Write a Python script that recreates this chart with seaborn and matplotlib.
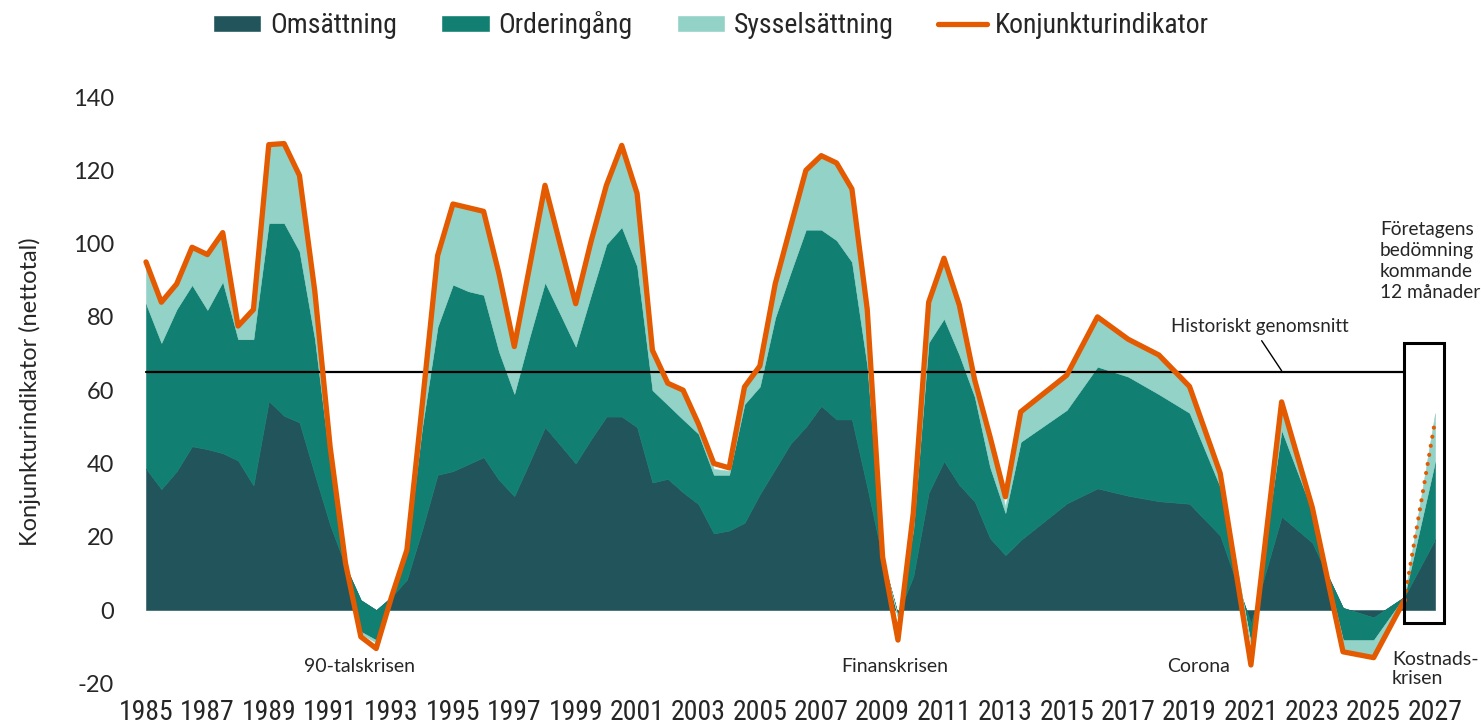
import matplotlib
matplotlib.use("Agg")
import matplotlib.pyplot as plt
import matplotlib.font_manager as fm
from matplotlib.patches import Rectangle, Patch
from matplotlib.lines import Line2D
import seaborn as sns
import pandas as pd

# ---------------- data ----------------
years = [1985.0, 1985.5, 1986.0, 1986.5, 1987.0, 1987.5, 1988.0, 1988.5, 1989.0, 1989.5,
         1990.0, 1990.5, 1991.0, 1991.5, 1992.0, 1992.5, 1993.0, 1993.5, 1994.0, 1994.5,
         1995.0, 1995.5, 1996.0, 1996.5, 1997.0, 1997.5, 1998.0, 1998.5, 1999.0, 1999.5,
         2000.0, 2000.5, 2001.0, 2001.5, 2002.0, 2002.5, 2003.0, 2003.5, 2004.0, 2004.5,
         2005.0, 2005.5, 2006.0, 2006.5, 2007.0, 2007.5, 2008.0, 2008.5, 2009.0, 2009.5,
         2010.0, 2010.5, 2011.0, 2011.5, 2012.0, 2012.5, 2013.0, 2013.5, 2015.0, 2016.0,
         2017.0, 2018.0, 2019.0, 2020.0, 2021.0, 2022.0, 2023.0, 2024.0, 2025.0, 2026.0,
         2027.0]

omsattning = [38.6, 33.0, 37.9, 44.7, 43.9, 42.8, 40.8, 34.0, 57.0, 53.0,
              51.2, 37.0, 23.2, 12.0, 2.7, 0.0, 3.6, 8.3, 22.0, 36.9,
              37.9, 39.8, 41.7, 35.5, 31.1, 40.4, 49.9, 45.0, 40.0, 46.6,
              52.8, 52.8, 49.9, 34.8, 35.8, 32.1, 28.9, 20.9, 21.7, 23.8,
              31.6, 38.5, 45.4, 50.0, 55.7, 52.0, 52.0, 33.5, 14.0, -1.2,
              9.2, 32.0, 40.6, 34.1, 29.6, 19.6, 15.0, 19.1, 29.1, 33.2,
              31.2, 29.7, 29.0, 20.3, -3.6, 25.5, 18.4, 0.6, -2.0, 3.6,
              19.3]

orderingang = [45.0, 39.9, 44.2, 44.0, 38.0, 46.8, 33.1, 39.9, 48.6, 52.6,
               46.7, 37.0, 16.8, 0.5, -8.6, -8.2, 0.0, 7.7, 28.0, 40.4,
               50.9, 47.2, 44.3, 35.0, 27.9, 34.2, 39.5, 35.7, 31.9, 39.4,
               47.0, 51.7, 43.9, 25.2, 20.2, 19.9, 19.2, 16.0, 15.2, 32.4,
               29.4, 41.3, 46.6, 53.8, 48.1, 48.9, 43.0, 33.1, 0.2, -0.8,
               12.8, 41.0, 38.9, 35.5, 28.6, 19.4, 11.5, 26.8, 25.5, 33.2,
               32.5, 29.2, 24.8, 13.3, -5.5, 23.6, 8.6, -8.8, -6.2, 0.0,
               21.2]

sysselsattning = [11.4, 11.1, 6.9, 10.3, 15.1, 13.4, 3.1, 7.6, 20.9, 21.4,
                  20.6, 12.5, 4.0, 0.3, -0.6, -0.7, 0.0, 0.4, 6.0, 19.2,
                  21.7, 22.5, 22.5, 21.0, 12.5, 18.9, 26.1, 18.8, 11.6, 14.5,
                  15.7, 22.0, 19.7, 10.5, 5.5, 7.5, 2.4, 1.6, 1.1, 4.3,
                  5.3, 8.9, 12.3, 15.9, 19.9, 20.8, 19.6, 15.1, 0.2, 0.0,
                  4.3, 10.7, 16.2, 13.4, 4.3, 8.0, 1.5, 7.9, 9.2, 13.3,
                  9.9, 10.4, 6.9, 3.4, -0.4, 7.4, 0.8, -2.6, -4.1, 0.0,
                  13.2]

konjunktur = [95.0, 84.0, 89.0, 99.0, 97.0, 103.0, 77.5, 82.0, 127.0, 127.3,
              118.6, 87.0, 44.5, 12.8, -7.3, -10.5, 3.6, 16.4, 56.0, 96.7,
              110.8, 109.8, 108.8, 91.8, 71.9, 93.8, 115.9, 99.6, 83.6, 100.6,
              115.9, 126.8, 113.7, 70.9, 61.9, 60.0, 50.8, 40.0, 38.8, 60.9,
              66.6, 89.0, 104.6, 120.0, 124.0, 122.0, 114.9, 82.0, 14.5, -8.2,
              26.5, 84.0, 96.0, 83.2, 62.8, 47.3, 30.9, 54.1, 64.1, 80.0,
              73.9, 69.6, 61.0, 37.3, -15.0, 56.8, 28.0, -11.4, -13.0, 2.7,
              51.7]

historical_avg = 65
forecast_start = 2026.0

series_names = ["Omsättning", "Orderingång", "Sysselsättning", "Konjunkturindikator"]
x_ticks = [1985, 1987, 1989, 1991, 1993, 1995, 1997, 1999, 2001, 2003, 2005, 2007,
           2009, 2011, 2013, 2015, 2017, 2019, 2021, 2023, 2025, 2027]
y_ticks = [-20, 0, 20, 40, 60, 80, 100, 120, 140]

# ---------------- style ----------------
C_DARK = "#22555b"
C_MID = "#117f71"
C_LIGHT = "#93d2c7"
C_ORANGE = "#e35a00"

sns.set_theme(style="white")
names = {f.name for f in fm.fontManager.ttflist}
REG = "Lato" if "Lato" in names else "DejaVu Sans"
plt.rcParams["font.family"] = [REG, "DejaVu Sans"]

cond_prop = None
for n in ["Liberation Sans Narrow", "Roboto Condensed", "Open Sans Condensed", "Noto Sans Condensed"]:
    if n in names:
        cond_prop = dict(family=[n, "DejaVu Sans"])
        break
if cond_prop is None:
    stretched = [f for f in fm.fontManager.ttflist
                 if f.name in ("Noto Sans", "Open Sans") and str(f.stretch) in ("condensed", "semi-condensed", "extra-condensed", "75", "87")]
    if stretched:
        cond_prop = dict(family=[stretched[0].name, "DejaVu Sans"], stretch="condensed")
    else:
        cond_prop = dict(family=[REG, "DejaVu Sans"])
is_cond = ("Narrow" in cond_prop["family"][0] or "Condensed" in cond_prop["family"][0]
           or cond_prop.get("stretch"))
TICK_SIZE = 20.0 if is_cond else 16
LEG_SIZE = 20.0 if is_cond else 16

fig = plt.figure(figsize=(14.81, 7.24), dpi=100)
ax = fig.add_axes([0.07786, 0.0562, 0.91185, 0.8098])

ax.stackplot(years, omsattning, orderingang, sysselsattning,
             colors=[C_DARK, C_MID, C_LIGHT], linewidth=0.4,
             edgecolor="face", zorder=1)

ax.plot([1985, forecast_start], [historical_avg, historical_avg], color="black", lw=1.6, zorder=2)

df = pd.DataFrame({"year": years, "konj": konjunktur})
solid = df[df["year"] <= forecast_start]
fc = df[df["year"] >= forecast_start]
sns.lineplot(data=solid, x="year", y="konj", color=C_ORANGE, lw=3.8, ax=ax,
             sort=False, legend=False, zorder=4)
for l in ax.lines[-1:]:
    l.set_solid_joinstyle("round")
    l.set_solid_capstyle("round")
ax.plot(fc["year"], fc["konj"], color=C_ORANGE, lw=3.0,
        linestyle=(0, (0.01, 2.2)), dash_capstyle="round", zorder=4)

ax.add_patch(Rectangle((forecast_start, -3.5), 1.3, 76.5, fill=False,
                       edgecolor="black", lw=2.2, zorder=5))

# annotations
ax.plot([2021.35, 2022.0], [73.5, 65.3], color="black", lw=1.0, zorder=3)
ax.text(2018.4, 77.5, "Historiskt genomsnitt", fontsize=13.5, ha="left", va="center")
ax.text(2025.2, 106.3, "Företagens\nbedömning\nkommande\n12 månader", fontsize=13.8,
        ha="left", va="top", linespacing=1.3)
ax.text(1991.97, -15.3, "90-talskrisen", fontsize=14, ha="center", va="center")
ax.text(2009.4, -15.3, "Finanskrisen", fontsize=14, ha="center", va="center")
ax.text(2019.3, -15.3, "Corona", fontsize=14, ha="center", va="center")
ax.text(2025.6, -16.0, "Kostnads-\nkrisen", fontsize=14, ha="left", va="center", linespacing=1.15)

ax.set_xlim(1984, 2028)
ax.set_ylim(-20, 140)
ax.set_xticks(x_ticks)
ax.set_xticklabels([str(t) for t in x_ticks], fontsize=TICK_SIZE, **cond_prop)
ax.set_yticks(y_ticks)
ax.set_yticklabels([str(t) for t in y_ticks], fontsize=17)
ax.tick_params(axis="x", length=0, pad=11)
ax.tick_params(axis="y", length=0, pad=1)
for s in ax.spines.values():
    s.set_visible(False)
ax.set_xlabel("")
ax.set_ylabel("")
fig.text(0.0203, 0.4586, "Konjunkturindikator (nettotal)", rotation=90,
         fontsize=17, ha="center", va="center")

handles = [Patch(facecolor=C_DARK), Patch(facecolor=C_MID), Patch(facecolor=C_LIGHT),
           Line2D([0], [0], color=C_ORANGE, lw=3.8)]
leg = fig.legend(handles, series_names, loc="center", bbox_to_anchor=(0.48, 0.9655),
                 ncol=4, frameon=False, handlelength=1.75, handleheight=0.55,
                 handletextpad=0.3, columnspacing=1.6,
                 prop=fm.FontProperties(size=LEG_SIZE, **cond_prop))

fig.savefig("out.png", dpi=100)
